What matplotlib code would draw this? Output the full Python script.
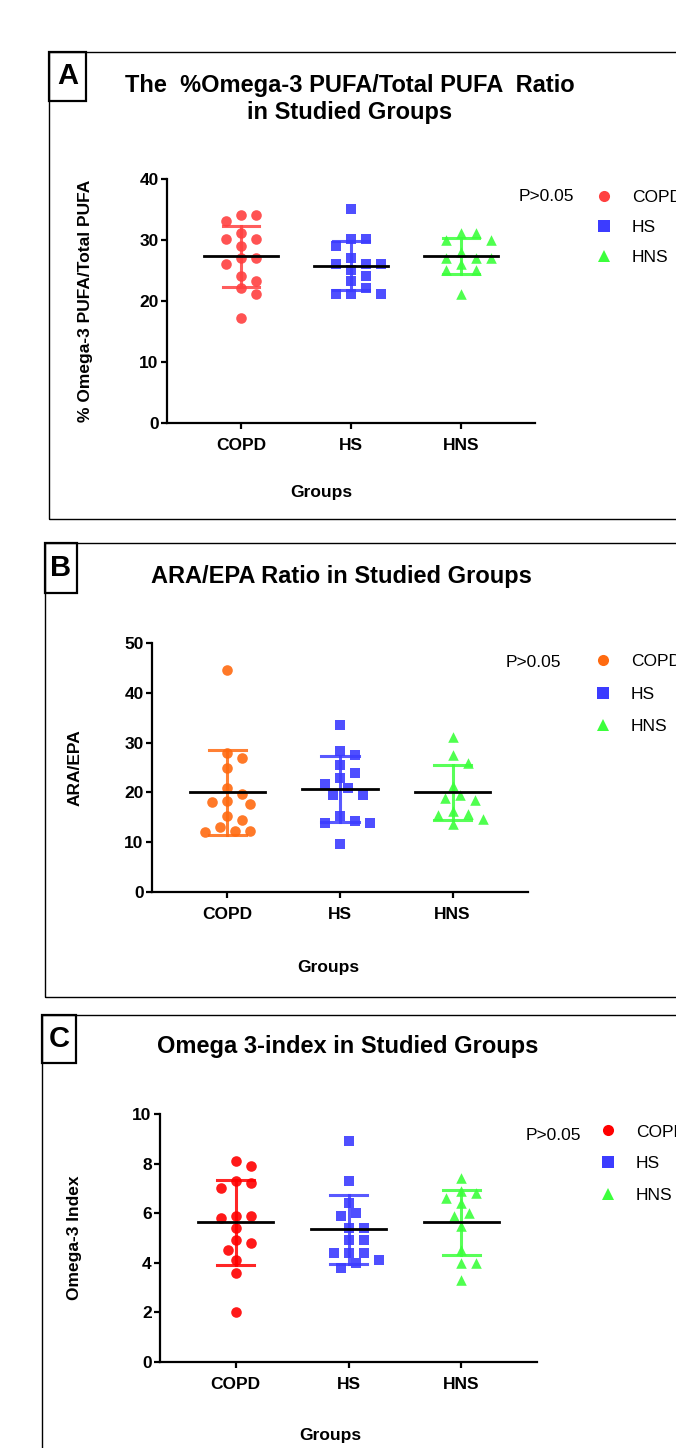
import numpy as np
import matplotlib
matplotlib.use("Agg")
import matplotlib.pyplot as plt
from matplotlib.lines import Line2D
from matplotlib.patches import Rectangle

plt.rcParams['font.family'] = ['Liberation Sans', 'DejaVu Sans']

W, H = 676, 1448
groups = ["COPD", "HS", "HNS"]

# panel A: % omega-3 PUFA / total PUFA
a_copd = [34.1, 34.1, 33.1, 31.1, 30.1, 30.1, 29.0, 27.1, 27.1, 26.1, 24.1, 23.2, 22.2, 21.1, 17.2]
a_hs = [35.1, 30.1, 30.1, 29.0, 27.1, 26.1, 26.1, 26.1, 25.1, 24.1, 23.2, 22.2, 21.1, 21.1, 21.1]
a_hns = [31.1, 31.1, 30.0, 30.0, 28.0, 27.0, 27.0, 27.0, 26.0, 25.1, 25.1, 21.1]
a_mean = [27.3, 25.8, 27.4]
a_sd = [5.0, 4.0, 2.9]

# panel B: ARA/EPA
b_copd = [44.6, 27.9, 26.9, 24.8, 20.9, 19.7, 18.2, 18.0, 17.7, 15.2, 14.5, 13.0, 12.3, 12.3, 12.0]
b_hs = [33.5, 28.4, 27.5, 25.5, 23.9, 22.8, 21.7, 20.9, 19.4, 19.4, 15.2, 14.3, 13.8, 13.8, 9.6]
b_hns = [31.1, 27.5, 25.9, 21.2, 19.4, 18.8, 18.4, 16.3, 15.7, 15.5, 14.7, 13.6]
b_mean = [20.0, 20.7, 20.0]
b_sd = [8.5, 6.6, 5.5]

# panel C: omega-3 index
c_copd = [8.1, 7.9, 7.3, 7.2, 7.0, 5.9, 5.9, 5.8, 5.4, 4.9, 4.8, 4.5, 4.1, 3.6, 2.0]
c_hs = [8.9, 7.3, 6.4, 6.0, 5.9, 5.4, 5.4, 4.9, 4.9, 4.4, 4.4, 4.4, 4.1, 4.0, 3.8]
c_hns = [7.4, 6.9, 6.8, 6.6, 6.4, 6.0, 5.9, 5.5, 4.5, 4.0, 4.0, 3.3]
c_mean = [5.63, 5.35, 5.63]
c_sd = [1.71, 1.39, 1.3]

blue = '#3c3cff'
green = '#3cff3c'
markers = ['o', 's', '^']


def fig_rect(fig, x0, y0, x1, y1, lw):
    fig.add_artist(Rectangle((x0 / W, 1 - y1 / H), (x1 - x0) / W, (y1 - y0) / H,
                             transform=fig.transFigure, fill=False, lw=lw,
                             ec='black', clip_on=True))


def swarm(ax, values, centre, step=7.5, diam=11):
    """Spread points sideways so markers do not overlap (beeswarm)."""
    vals = np.asarray(values, dtype=float)
    ys = ax.transData.transform(np.column_stack([np.full(len(vals), centre), vals]))[:, 1]
    ppx = ax.transData.transform((centre + 1, 0))[0] - ax.transData.transform((centre, 0))[0]
    cands = [0] + [s * j for j in range(1, 20) for s in (1, -1)]
    placed = []
    xs = np.zeros(len(vals))
    for i in np.argsort(-vals, kind='stable'):
        for c in cands:
            dx = c * step
            if all((dx - px) ** 2 + (ys[i] - py) ** 2 >= diam ** 2 for px, py in placed):
                break
        placed.append((dx, ys[i]))
        xs[i] = centre + dx / ppx
    return xs


def panel(fig, box, data, means, sds, colors, ylim, yticks, ylabel, ylab_x, xlab_pos,
          legend_pos, p_pos, spacing):
    l, t, r, b = box
    ax = fig.add_axes([l / W, 1 - b / H, (r - l) / W, (b - t) / H])
    ax.set_xlim(0.33, 3.67)
    ax.set_ylim(*ylim)
    for i, (vals, col, mk) in enumerate(zip(data, colors, markers)):
        pos = i + 1
        xs = swarm(ax, vals, pos)
        ax.scatter(xs, vals, s=58, marker=mk, color=col, alpha=0.9, lw=0, zorder=3, clip_on=False)
        m, sd = means[i], sds[i]
        ax.plot([pos, pos], [m - sd, m + sd], color=col, lw=2.2, alpha=0.85, zorder=4)
        ax.plot([pos - 0.165, pos + 0.165], [m + sd] * 2, color=col, lw=2.2, alpha=0.85, zorder=4)
        ax.plot([pos - 0.165, pos + 0.165], [m - sd] * 2, color=col, lw=2.2, alpha=0.85, zorder=4)
        ax.plot([pos - 0.335, pos + 0.335], [m, m], color='black', lw=2.0, zorder=5)
    for s in ['top', 'right']:
        ax.spines[s].set_visible(False)
    for s in ['left', 'bottom']:
        ax.spines[s].set_linewidth(1.6)
    ax.set_xticks([1, 2, 3])
    ax.set_xticklabels(groups, fontsize=12.5, fontweight='bold')
    ax.set_yticks(yticks)
    ax.set_yticklabels([str(v) for v in yticks], fontsize=12.5, fontweight='bold')
    ax.tick_params(width=1.6, length=4, pad=2)
    ax.tick_params(axis='x', pad=7)
    ax.set_ylabel(ylabel, fontsize=12.5, fontweight='bold')
    ax.yaxis.set_label_coords(ylab_x, 0.5)
    ax.set_xlabel("Groups", fontsize=12.5, fontweight='bold')
    ax.xaxis.set_label_coords(*xlab_pos)
    ax.text(p_pos[0], p_pos[1], "P>0.05", transform=ax.transAxes, fontsize=12.5,
            ha='left', va='center')
    handles = [Line2D([], [], marker=mk, ls='none', color=col, markersize=8, mew=0)
               for col, mk in zip(colors, markers)]
    ax.legend(handles, groups, loc='upper left', bbox_to_anchor=legend_pos, frameon=False,
              fontsize=12.5, handlelength=1.0, handletextpad=1.1, borderpad=0,
              borderaxespad=0, labelspacing=spacing)
    return ax


fig = plt.figure(figsize=(W / 100, H / 100), dpi=100)

# outer frames and letter boxes
fig_rect(fig, 49, 52, 760, 519, 1.0)
fig_rect(fig, 45, 543, 760, 997, 1.0)
fig_rect(fig, 42, 1015, 760, 1520, 1.0)
fig_rect(fig, 49, 52, 86, 101, 1.6)
fig_rect(fig, 45, 543, 77, 593, 1.6)
fig_rect(fig, 42, 1015, 76, 1063, 1.6)
for letter, (x, y) in zip("ABC", [(67.5, 76.5), (61, 568), (59, 1039)]):
    fig.text(x / W, 1 - y / H, letter, fontsize=21, fontweight='bold', ha='center', va='center')

fig.text(350 / W, 1 - 99 / H, "The  %Omega-3 PUFA/Total PUFA  Ratio\nin Studied Groups",
         fontsize=17, fontweight='bold', ha='center', va='center', linespacing=1.25)
fig.text(341 / W, 1 - 577 / H, "ARA/EPA Ratio in Studied Groups",
         fontsize=17, fontweight='bold', ha='center', va='center')
fig.text(348 / W, 1 - 1046 / H, "Omega 3-index in Studied Groups",
         fontsize=17, fontweight='bold', ha='center', va='center')

panel(fig, (167, 179, 535, 423), [a_copd, a_hs, a_hns], a_mean, a_sd,
      ['#ff4040', blue, green], (0, 40), [0, 10, 20, 30, 40],
      "% Omega-3 PUFA/Total PUFA", -0.20, (0.42, -0.255),
      (1.164, 0.957), (0.955, 0.93), 0.865)
panel(fig, (152, 643, 528, 892), [b_copd, b_hs, b_hns], b_mean, b_sd,
      ['#ff6a10', blue, green], (0, 50), [0, 10, 20, 30, 40, 50],
      "ARA/EPA", -0.186, (0.468, -0.275),
      (1.176, 0.955), (0.94, 0.92), 0.995)
panel(fig, (160, 1114, 537, 1362), [c_copd, c_hs, c_hns], c_mean, c_sd,
      ['#ff0000', blue, green], (0, 10), [0, 2, 4, 6, 8, 10],
      "Omega-3 Index", -0.207, (0.451, -0.265),
      (1.165, 0.958), (0.97, 0.915), 0.965)

fig.savefig("out.png", dpi=100)
